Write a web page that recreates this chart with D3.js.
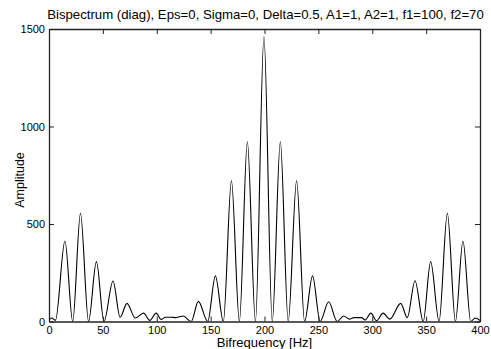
<!DOCTYPE html>
<html><head><meta charset="utf-8">
<script src="https://cdn.jsdelivr.net/npm/d3@7"></script>
<style>body{margin:0;background:#fff}svg{display:block}text{font-family:"Liberation Sans",Arial,Helvetica,sans-serif;fill:#000}</style>
</head><body>
<script>
const titleText = "Bispectrum (diag), Eps=0, Sigma=0, Delta=0.5, A1=1, A2=1, f1=100, f2=70";
const xLabel = "Bifrequency [Hz]";
const yLabel = "Amplitude";
const xTicks = [0,50,100,150,200,250,300,350,400];
const yTicks = [0,500,1000,1500];
const freq = [0,2.5,6,14.8,22,29.2,36.7,44,51,59.4,66,72.4,80,87.8,93.5,99.5,104,108,113,118,124.6,132,138.6,147.3,154.4,161.8,169.3,176.7,184.1,191.6,199.5,207.2,214.7,222,229.8,237.2,244.6,251.6,259.6,267.4,273.5,279,283,290,293.5,298.7,304,310,316.3,326.4,332.5,339.7,347.3,354.2,362,369.7,377.2,384.2,391.4,395.5,400];
const amp  = [8,18,6,413,0,555,0,307,0,208,22,93,18,43,6,43,10,22,22,20,28,0,103,0,234,0,722,0,922,0,1460,0,922,0,722,0,234,0,101,0,28,12,20,20,8,43,4,43,12,93,20,209,0,307,0,555,0,413,0,18,5];

const W = 491, H = 349;
const m = {left:49, right:480, top:29, bottom:321.5};
const svg = d3.select("body").append("svg").attr("width",W).attr("height",H);
const x = d3.scaleLinear().domain([0,400]).range([m.left,m.right]);
const y = d3.scaleLinear().domain([0,1500]).range([m.bottom,m.top]);

svg.append("clipPath").attr("id","c").append("rect")
  .attr("x",m.left).attr("y",m.top).attr("width",m.right-m.left).attr("height",m.bottom-m.top);

const data = freq.map((f,i)=>({f, v:amp[i]}));
svg.append("path").datum(data)
  .attr("clip-path","url(#c)")
  .attr("fill","none").attr("stroke","#000").attr("stroke-width",1.1)
  .attr("d", d3.line().x(d=>x(d.f)).y(d=>y(d.v)).curve(d3.curveMonotoneX));

const tl = 5;
const fmt = d3.format("d");
const axB = svg.append("g").attr("transform",`translate(0,${m.bottom})`)
  .call(d3.axisBottom(x).tickValues(xTicks).tickSizeInner(-tl).tickSizeOuter(0).tickPadding(4.5).tickFormat(fmt));
const axT = svg.append("g").attr("transform",`translate(0,${m.top})`)
  .call(d3.axisTop(x).tickValues(xTicks).tickSizeInner(-tl).tickSizeOuter(0).tickFormat(""));
const axL = svg.append("g").attr("transform",`translate(${m.left},0)`)
  .call(d3.axisLeft(y).tickValues(yTicks).tickSizeInner(-tl).tickSizeOuter(0).tickPadding(4).tickFormat(fmt));
const axR = svg.append("g").attr("transform",`translate(${m.right},0)`)
  .call(d3.axisRight(y).tickValues(yTicks).tickSizeInner(-tl).tickSizeOuter(0).tickFormat(""));
[axB,axT,axL,axR].forEach(g=>{
  g.select(".domain").attr("stroke","#222").attr("stroke-width",1.3);
  g.selectAll(".tick line").attr("stroke","#222");
  g.selectAll("text").attr("font-size","11px").attr("font-family","Liberation Sans, Arial, sans-serif").attr("fill","#000");
});
axB.selectAll("text").attr("dy","0.71em");

svg.append("text").attr("x",(m.left+m.right)/2+1).attr("y",19).attr("text-anchor","middle")
  .attr("font-size","13.2px").text(titleText);
svg.append("text").attr("x",(m.left+m.right)/2).attr("y",347).attr("text-anchor","middle")
  .attr("font-size","13px").text(xLabel);
svg.append("text").attr("transform","translate(24,180) rotate(-90)").attr("text-anchor","middle")
  .attr("font-size","12.5px").text(yLabel);
</script>
</body></html>
